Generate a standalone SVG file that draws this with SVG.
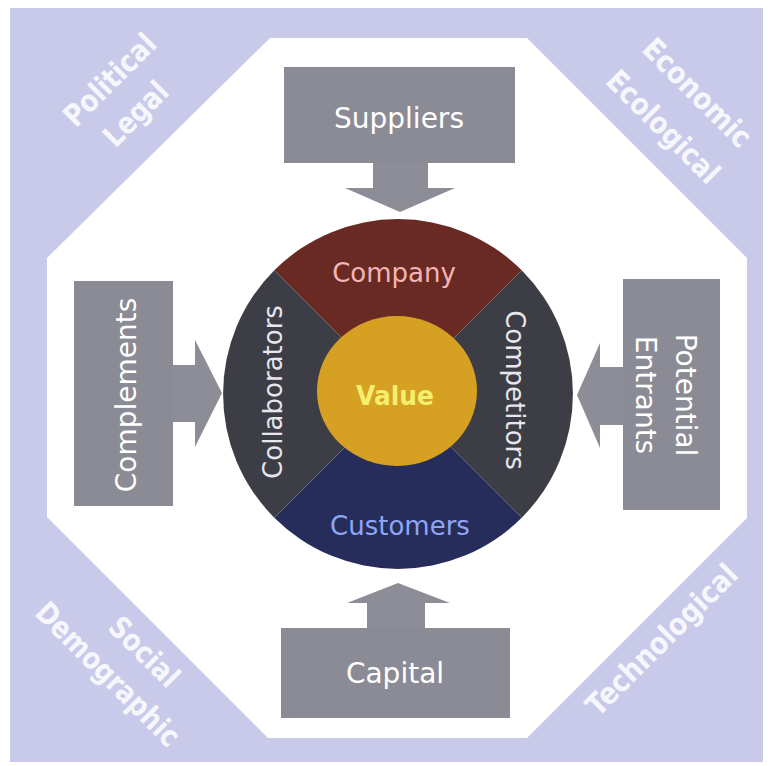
<svg xmlns="http://www.w3.org/2000/svg" width="772" height="766" viewBox="0 0 772 766">
  <defs>
    <style>
      .env { fill: #c9c9ea; }
      .octa { fill: #ffffff; }
      .box { fill: #8b8b95; }
      .arrow { fill: #8d8d97; }
      .boxtxt { font-family: "DejaVu Sans", "Liberation Sans", sans-serif; font-size: 28px; fill: #ffffff; text-anchor: middle; }
      .ring { font-family: "DejaVu Sans", "Liberation Sans", sans-serif; font-size: 26px; text-anchor: middle; }
      .corner { font-family: "DejaVu Sans", "Liberation Sans", sans-serif; font-size: 30px; font-weight: bold; fill: #f6f6fc; text-anchor: middle; }
    </style>
  </defs>

  <!-- outer environment band -->
  <rect class="env" x="10" y="8" width="753" height="754"/>
  <polygon class="octa" points="270,38 527,38 747,258 747,518 527,738 268,738 47,517 47,258"/>

  <!-- environment factors in the corners -->
  <g id="political-legal">
    <text class="corner" transform="translate(110,80) rotate(-45)" y="10" textLength="117" lengthAdjust="spacingAndGlyphs">Political</text>
    <text class="corner" transform="translate(136,114) rotate(-45)" y="10" textLength="78" lengthAdjust="spacingAndGlyphs">Legal</text>
  </g>
  <g id="economic-ecological">
    <text class="corner" transform="translate(697,93) rotate(45)" y="10" textLength="140" lengthAdjust="spacingAndGlyphs">Economic</text>
    <text class="corner" transform="translate(663,127) rotate(45)" y="10" textLength="146" lengthAdjust="spacingAndGlyphs">Ecological</text>
  </g>
  <g id="social-demographic">
    <text class="corner" transform="translate(144,652) rotate(45)" y="10" textLength="86" lengthAdjust="spacingAndGlyphs">Social</text>
    <text class="corner" transform="translate(107,675) rotate(45)" y="9" font-size="26" textLength="190" lengthAdjust="spacingAndGlyphs">Demographic</text>
  </g>
  <g id="technological">
    <text class="corner" transform="translate(662,640) rotate(-45)" y="10" textLength="200" lengthAdjust="spacingAndGlyphs">Technological</text>
  </g>

  <!-- block arrows pointing at the core -->
  <g id="connectors">
    <polygon class="arrow" points="373,160 428,160 428,188 455,188 400,212 345,188 373,188"/>
    <polygon class="arrow" points="170,365 195,365 195,340 222,393 195,447 195,422 170,422"/>
    <polygon class="arrow" points="626,367 600,367 600,343 577,395 600,448 600,425 626,425"/>
    <polygon class="arrow" points="367,631 367,603 347,603 398,583 450,603 425,603 425,631"/>
  </g>

  <!-- outside forces -->
  <g id="suppliers">
    <rect class="box" x="284" y="67" width="231" height="96"/>
    <text class="boxtxt" x="399" y="128">Suppliers</text>
  </g>
  <g id="complements">
    <rect class="box" x="74" y="281" width="99" height="225"/>
    <text class="boxtxt" transform="translate(136,395) rotate(-90)">Complements</text>
  </g>
  <g id="potential-entrants">
    <rect class="box" x="623" y="279" width="97" height="231"/>
    <text class="boxtxt" transform="translate(676,395) rotate(90)">Potential</text>
    <text class="boxtxt" transform="translate(636,395) rotate(90)">Entrants</text>
  </g>
  <g id="capital">
    <rect class="box" x="281" y="628" width="229" height="90"/>
    <text class="boxtxt" x="395" y="683">Capital</text>
  </g>

  <!-- the core: four sectors around value -->
  <g id="company">
    <path d="M398,394 L274.3,270.3 A175,175 0 0,1 521.7,270.3 Z" fill="#6a2a24"/>
    <text class="ring" x="394" y="282" fill="#f4b4b4">Company</text>
  </g>
  <g id="competitors">
    <path d="M398,394 L521.7,270.3 A175,175 0 0,1 521.7,517.7 Z" fill="#3d3d45"/>
    <text class="ring" transform="translate(506,390) rotate(90)" fill="#e6e6ec">Competitors</text>
  </g>
  <g id="customers">
    <path d="M398,394 L521.7,517.7 A175,175 0 0,1 274.3,517.7 Z" fill="#272d5b"/>
    <text class="ring" x="400" y="535" fill="#8fa6f4">Customers</text>
  </g>
  <g id="collaborators">
    <path d="M398,394 L274.3,517.7 A175,175 0 0,1 274.3,270.3 Z" fill="#3d3d45"/>
    <text class="ring" transform="translate(282,392) rotate(-90)" fill="#e6e6ec">Collaborators</text>
  </g>
  <g id="value">
    <ellipse cx="397" cy="391" rx="80" ry="75" fill="#d6a022"/>
    <text class="ring" x="395" y="405" fill="#f4ee6a" font-size="30" font-weight="bold" textLength="78" lengthAdjust="spacingAndGlyphs">Value</text>
  </g>
</svg>
